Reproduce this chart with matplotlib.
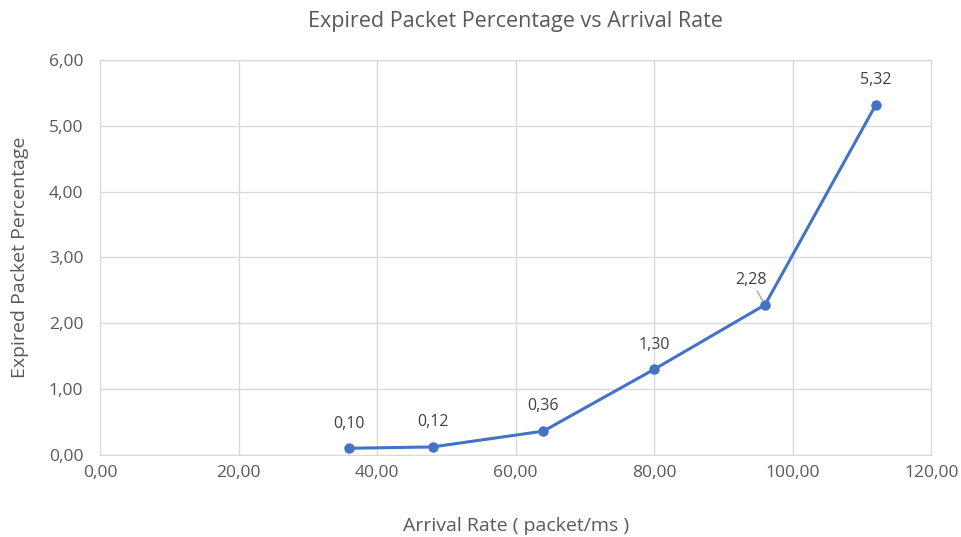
import matplotlib.pyplot as plt
from matplotlib.ticker import FuncFormatter

plt.rcParams['font.family'] = ['Open Sans', 'DejaVu Sans']

arrival = [36, 48, 64, 80, 96, 112]
expired = [0.10, 0.12, 0.36, 1.30, 2.28, 5.32]
labels = ["0,10", "0,12", "0,36", "1,30", "2,28", "5,32"]

gray = "#595959"
grid = "#d9d9d9"
blue = "#4472C4"

fig = plt.figure(figsize=(9.62, 5.37), dpi=100)
ax = fig.add_axes([0.104, 0.153, 0.864, 0.735])

ax.plot(arrival, expired, color=blue, lw=2.2, marker="o", ms=6.5, zorder=3)

for x, y, s in zip(arrival, expired, labels):
    if s == "2,28":
        ax.annotate(s, (x, y), xytext=(-10, 12), textcoords="offset points",
                    ha="center", va="bottom", fontsize=11.5, color="#404040",
                    arrowprops=dict(arrowstyle="-", color="#a6a6a6", lw=1,
                                    shrinkA=0, shrinkB=3))
    else:
        ax.annotate(s, (x, y), xytext=(0, 12), textcoords="offset points",
                    ha="center", va="bottom", fontsize=11.5, color="#404040")

ax.set_xlim(0, 120)
ax.set_ylim(0, 6)
ax.set_xticks(range(0, 121, 20))
ax.set_yticks(range(0, 7))
fmt = FuncFormatter(lambda v, p: f"{v:.2f}".replace(".", ","))
ax.xaxis.set_major_formatter(fmt)
ax.yaxis.set_major_formatter(fmt)
ax.grid(True, color=grid, lw=1)
ax.set_axisbelow(True)
for sp in ax.spines.values():
    sp.set_color(grid)
ax.tick_params(axis="x", length=0, colors=gray, labelsize=12.5, pad=7)
ax.tick_params(axis="y", length=0, colors=gray, labelsize=12.5, pad=12)

ax.set_title("Expired Packet Percentage vs Arrival Rate", fontsize=15.5,
             color=gray, pad=24)
ax.set_xlabel("Arrival Rate ( packet/ms )", fontsize=14, color=gray, labelpad=26)
ax.set_ylabel("Expired Packet Percentage", fontsize=14, color=gray, labelpad=14)

fig.savefig("out.png", dpi=100)
